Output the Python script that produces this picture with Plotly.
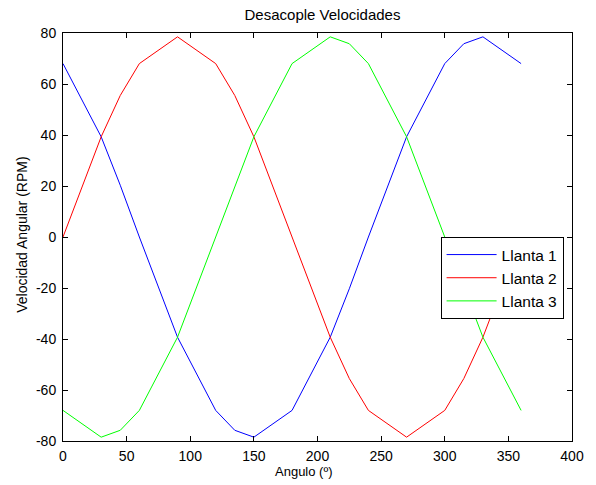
import plotly.graph_objects as go

angulo = [0, 30, 45, 60, 90, 120, 135, 150, 180, 210, 225, 240, 270, 300, 315, 330, 360]
llanta1 = [68, 39.3, 20.3, 0, -39.3, -68, -75.8, -78.5, -68, -39.3, -20.3, 0, 39.3, 68, 75.8, 78.5, 68]
llanta2 = [0, 39.3, 55.5, 68, 78.5, 68, 55.5, 39.3, 0, -39.3, -55.5, -68, -78.5, -68, -55.5, -39.3, 0]
llanta3 = [-68, -78.5, -75.8, -68, -39.3, 0, 20.3, 39.3, 68, 78.5, 75.8, 68, 39.3, 0, -20.3, -39.3, -68]

names = ["Llanta 1", "Llanta 2", "Llanta 3"]
colors = ["#0000ff", "#ff0000", "#00ff00"]
xticks = [0, 50, 100, 150, 200, 250, 300, 350, 400]
yticks = [-80, -60, -40, -20, 0, 20, 40, 60, 80]

FONT = "Liberation Sans, Arial, sans-serif"
W, H = 596, 485
L, R, T, B = 63, 14, 33, 44
PW, PH = W - L - R, H - T - B

fig = go.Figure()
for name, ys, c in zip(names, [llanta1, llanta2, llanta3], colors):
    fig.add_trace(go.Scatter(x=angulo, y=ys, mode="lines", name=name,
                             line=dict(color=c, width=1)))

axis_common = dict(showline=True, linecolor="black", linewidth=1, mirror="ticks",
                   ticks="inside", ticklen=5, tickcolor="black", showgrid=False,
                   zeroline=False, tickfont=dict(family=FONT, size=14, color="black"))

fig.update_layout(
    width=W, height=H,
    margin=dict(l=L, r=R, t=T, b=B),
    paper_bgcolor="white", plot_bgcolor="white",
    font=dict(family=FONT, size=14, color="black"),
    title=dict(text="Desacople Velocidades", x=(L + L + PW) / 2 / W, xanchor="center",
               y=1 - 15 / H, yanchor="middle", font=dict(family=FONT, size=15)),
    xaxis=dict(range=[0, 400], tickvals=xticks, ticktext=[str(v) for v in xticks],
               ticklabelstandoff=2, **axis_common),
    yaxis=dict(range=[-80, 80], tickvals=yticks, ticktext=[str(v) for v in yticks],
               ticklabelstandoff=3, **axis_common),
    legend=dict(x=(448 - L) / PW, y=(H - B - 237) / PH, xanchor="left", yanchor="top",
                bgcolor="white", bordercolor="black", borderwidth=1,
                font=dict(family=FONT, size=15.5), tracegroupgap=0, itemwidth=50),
    showlegend=True,
    annotations=[
        dict(text="Angulo (º)", xref="paper", yref="paper", x=(309 - L) / PW,
             y=-(471 - (H - B)) / PH,
             xanchor="center", yanchor="middle", showarrow=False,
             font=dict(family=FONT, size=13)),
        dict(text="Velocidad Angular (RPM)", xref="paper", yref="paper",
             x=(21 - L) / PW, y=(H - B - 235) / PH, xanchor="center", yanchor="middle",
             textangle=-90, showarrow=False, font=dict(family=FONT, size=14)),
    ],
)

fig.write_html("out.html")
